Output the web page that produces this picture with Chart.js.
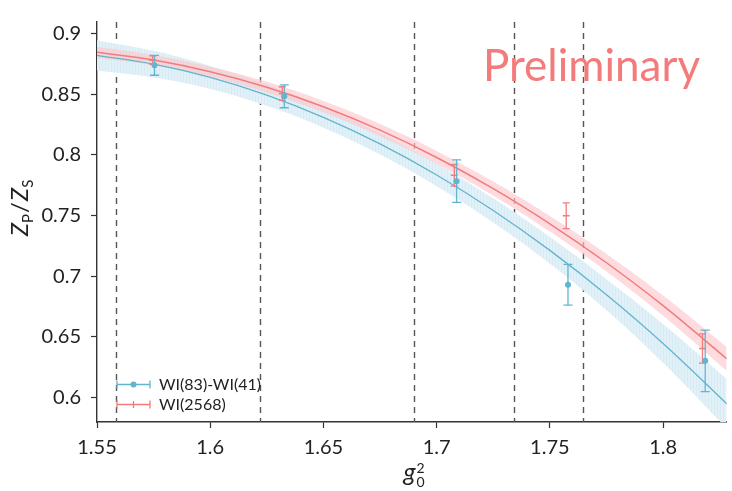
<!DOCTYPE html>
<html><head><meta charset="utf-8">
<script src="https://cdn.jsdelivr.net/npm/chart.js@4/dist/chart.umd.min.js"></script>
<style>html,body{margin:0;padding:0;background:#fff;}#wrap{width:732px;height:491px;position:relative;}</style>
</head><body><div id="wrap"><canvas id="c" width="732" height="491"></canvas></div>
<script>
// ---- data ----
const fitX      = [1.55, 1.575, 1.60, 1.625, 1.65, 1.675, 1.70, 1.725, 1.75, 1.775, 1.80, 1.83];
const blueFit   = [0.8820,0.8747,0.8638,0.8492,0.8309,0.8090,0.7834,0.7541,0.7212,0.6847,0.6445,0.5914];
const blueBand  = [0.0125,0.0110,0.0095,0.0088,0.0086,0.0088,0.0093,0.0100,0.0110,0.0128,0.0160,0.0207];
const redFit    = [0.8845,0.8781,0.8685,0.8557,0.8396,0.8203,0.7978,0.7721,0.7431,0.7110,0.6756,0.6288];
const redBand   = [0.0046,0.0042,0.0042,0.0045,0.0048,0.0051,0.0054,0.0058,0.0064,0.0072,0.0083,0.0099];

const blueX   = [1.5754, 1.6327, 1.7088, 1.7580, 1.8186];
const blueY   = [0.8738, 0.8482, 0.7783, 0.6928, 0.6301];
const blueErr = [0.0082, 0.0094, 0.0176, 0.0168, 0.0254];
const redX    = [1.5746, 1.6318, 1.7078, 1.7572, 1.8174];
const redY    = [0.8780, 0.8505, 0.7831, 0.7497, 0.6403];
const redErr  = [0.0035, 0.0056, 0.0089, 0.0106, 0.0120];

const dashedX = [1.5584, 1.6219, 1.6902, 1.7340, 1.7648];
const xTicks = [1.55, 1.6, 1.65, 1.7, 1.75, 1.8];
const xTickLabels = ['1.55','1.6','1.65','1.7','1.75','1.8'];
const yTicks = [0.6, 0.65, 0.7, 0.75, 0.8, 0.85, 0.9];
const yTickLabels = ['0.6','0.65','0.7','0.75','0.8','0.85','0.9'];
const seriesLabels = ['WI(83)-WI(41)', 'WI(2568)'];
const watermark = 'Preliminary';

// ---- styles ----
const BLUE = '#63b4cf', RED = '#f47b7b';
const FONT = 'Lato, "Open Sans", sans-serif';
const canvas = document.getElementById('c');
const ctx0 = canvas.getContext('2d');
function hatch(base, line){
  const c = document.createElement('canvas'); c.width = 3; c.height = 1;
  const g = c.getContext('2d'); g.fillStyle = base; g.fillRect(0,0,3,1);
  g.fillStyle = line; g.fillRect(0,0,1,1);
  return ctx0.createPattern(c, 'repeat');
}
const blueFill = hatch('#e2f1f7', '#d6ebf3');
const redFill = 'rgba(252,200,204,0.65)';

const pts = (ys, off) => fitX.map((x,i)=>({x, y: ys[i] + (off ? off[i] : 0)}));
const neg = a => a.map(v=>-v);

const datasets = [
  {label:'bl', data: pts(blueFit, neg(blueBand)), borderWidth:0, pointRadius:0, fill:false, order:7},
  {label:'bu', data: pts(blueFit, blueBand), borderWidth:0, pointRadius:0, fill:'-1', backgroundColor: blueFill, order:7},
  {label:'rl', data: pts(redFit, neg(redBand)), borderWidth:0, pointRadius:0, fill:false, order:6},
  {label:'ru', data: pts(redFit, redBand), borderWidth:0, pointRadius:0, fill:'-1', backgroundColor: redFill, order:6},
  {label:'bfit', data: pts(blueFit), borderColor: BLUE, borderWidth:1.3, pointRadius:0, fill:false, tension:0.4, order:4},
  {label:'rfit', data: pts(redFit), borderColor: RED, borderWidth:1.5, pointRadius:0, fill:false, tension:0.4, order:3},
  {label: seriesLabels[1], data: redX.map((x,i)=>({x, y:redY[i]})), showLine:false, pointStyle:'line', pointRadius:3.5,
   borderColor: RED, borderWidth:1.5, backgroundColor: RED, order:2, err: redErr, cap:3.5, legend:true},
  {label: seriesLabels[0], data: blueX.map((x,i)=>({x, y:blueY[i]})), showLine:false, pointStyle:'circle', pointRadius:3,
   borderColor: BLUE, borderWidth:0, backgroundColor: BLUE, order:1, err: blueErr, cap:4.5, legend:true},
];
datasets.slice(0,4).forEach(d=>d.tension = 0.4);

const errorBars = {
  id:'errorBars',
  beforeDatasetDraw(chart, args){
    const ds = chart.data.datasets[args.index];
    if (!ds.err) return;
    const {ctx, scales:{x, y}} = chart;
    ctx.save();
    ctx.strokeStyle = ds.borderColor; ctx.lineWidth = 1.3;
    ds.data.forEach((p,i)=>{
      const px = x.getPixelForValue(p.x);
      const y1 = y.getPixelForValue(p.y + ds.err[i]);
      const y2 = y.getPixelForValue(p.y - ds.err[i]);
      ctx.beginPath();
      ctx.moveTo(px, y1); ctx.lineTo(px, y2);
      ctx.moveTo(px-ds.cap, y1); ctx.lineTo(px+ds.cap, y1);
      ctx.moveTo(px-ds.cap, y2); ctx.lineTo(px+ds.cap, y2);
      ctx.stroke();
    });
    ctx.restore();
  }
};

const dashes = {
  id:'dashes',
  beforeDatasetsDraw(chart){
    const {ctx, chartArea:a, scales:{x}} = chart;
    ctx.save();
    ctx.strokeStyle = '#555'; ctx.lineWidth = 1.4; ctx.setLineDash([6,5]);
    dashedX.forEach(v=>{
      const px = Math.round(x.getPixelForValue(v)) + 0.5;
      ctx.beginPath(); ctx.moveTo(px, a.top); ctx.lineTo(px, a.bottom); ctx.stroke();
    });
    ctx.restore();
  }
};

function runs(ctx, list, x, y){
  list.forEach(r=>{
    ctx.font = r.font;
    const w = ctx.measureText(r.t).width;
    ctx.fillText(r.t, x + (r.dx||0), y + (r.dy||0));
    if (!r.stay) x += w + (r.dx||0);
  });
  return x;
}
function runsWidth(ctx, list){
  let w = 0;
  list.forEach(r=>{ ctx.font = r.font; const m = ctx.measureText(r.t).width; if(!r.stay) w += m + (r.dx||0); });
  return w;
}

const annotations = {
  id:'annotations',
  afterDraw(chart){
    const {ctx} = chart;
    ctx.save();
    ctx.fillStyle = '#222'; ctx.textBaseline = 'alphabetic'; ctx.textAlign = 'left';
    // y title
    const big = 'italic 24px ' + FONT, sub = '15px ' + FONT, reg = '24px ' + FONT;
    const yl = [{t:'Z', font:big},{t:'P', font:sub, dy:5, dx:0},{t:'/', font:reg, dx:1},{t:'Z', font:big, dx:1},{t:'S', font:sub, dy:5}];
    ctx.save(); ctx.translate(28, 208); ctx.rotate(-Math.PI/2);
    runs(ctx, yl, -runsWidth(ctx, yl)/2, 0);
    ctx.restore();
    // x title
    const xl = [{t:'g', font:'italic 25px ' + FONT},{t:'2', font:'14px ' + FONT, dy:-8, dx:1, stay:true},{t:'0', font:'14px ' + FONT, dy:6, dx:1}];
    runs(ctx, xl, 414 - runsWidth(ctx, xl)/2, 481);
    // watermark
    ctx.fillStyle = RED; ctx.font = '44px ' + FONT;
    ctx.fillText(watermark, 483, 81);
    // legend
    const items = chart.data.datasets.filter(d=>d.legend).reverse();
    items.forEach((d, i)=>{
      const ly = 384.5 + i*20, x1 = 117, x2 = 150;
      ctx.strokeStyle = d.borderColor; ctx.lineWidth = 1.3;
      ctx.beginPath();
      ctx.moveTo(x1, ly); ctx.lineTo(x2, ly);
      ctx.moveTo(x1, ly-4); ctx.lineTo(x1, ly+4);
      ctx.moveTo(x2, ly-4); ctx.lineTo(x2, ly+4);
      ctx.stroke();
      const cx = (x1+x2)/2;
      if (d.pointStyle === 'circle'){
        ctx.fillStyle = d.backgroundColor; ctx.beginPath(); ctx.arc(cx, ly, 3, 0, Math.PI*2); ctx.fill();
      } else {
        ctx.beginPath(); ctx.moveTo(cx, ly-3.5); ctx.lineTo(cx, ly+3.5); ctx.stroke();
      }
      ctx.fillStyle = '#222'; ctx.font = '16px ' + FONT; ctx.textBaseline = 'middle';
      ctx.fillText(d.label, 159, ly);
      ctx.textBaseline = 'alphabetic';
    });
    ctx.restore();
  }
};

new Chart(canvas, {
  type:'line',
  data:{datasets},
  options:{
    responsive:false, animation:false, events:[],
    layout:{padding:{top:7, right:0, left:0, bottom:0}},
    plugins:{legend:{display:false}, tooltip:{enabled:false}},
    scales:{
      x:{type:'linear', min:1.55, max:1.828,
        afterFit(s){ s.height = 69; },
        afterBuildTicks(s){ s.ticks = xTicks.map(v=>({value:v})); },
        ticks:{callback:(v)=>xTickLabels[xTicks.findIndex(t=>Math.abs(t-v)<1e-9)], font:{family:FONT, size:20}, color:'#222', padding:8, maxRotation:0, autoSkip:false},
        grid:{drawOnChartArea:false, drawTicks:true, tickLength:6, color:'#333', tickWidth:1.2},
        border:{display:true, color:'#333', width:1.4}
      },
      y:{type:'linear', min:0.5797, max:0.9095,
        afterFit(s){ s.width = 97; },
        afterBuildTicks(s){ s.ticks = yTicks.map(v=>({value:v})); },
        ticks:{callback:(v)=>yTickLabels[yTicks.findIndex(t=>Math.abs(t-v)<1e-9)], font:{family:FONT, size:20}, color:'#222', padding:10, autoSkip:false},
        grid:{drawOnChartArea:false, drawTicks:true, tickLength:6, color:'#333', tickWidth:1.2},
        border:{display:true, color:'#333', width:1.4}
      }
    }
  },
  plugins:[dashes, errorBars, annotations]
});
</script></body></html>
